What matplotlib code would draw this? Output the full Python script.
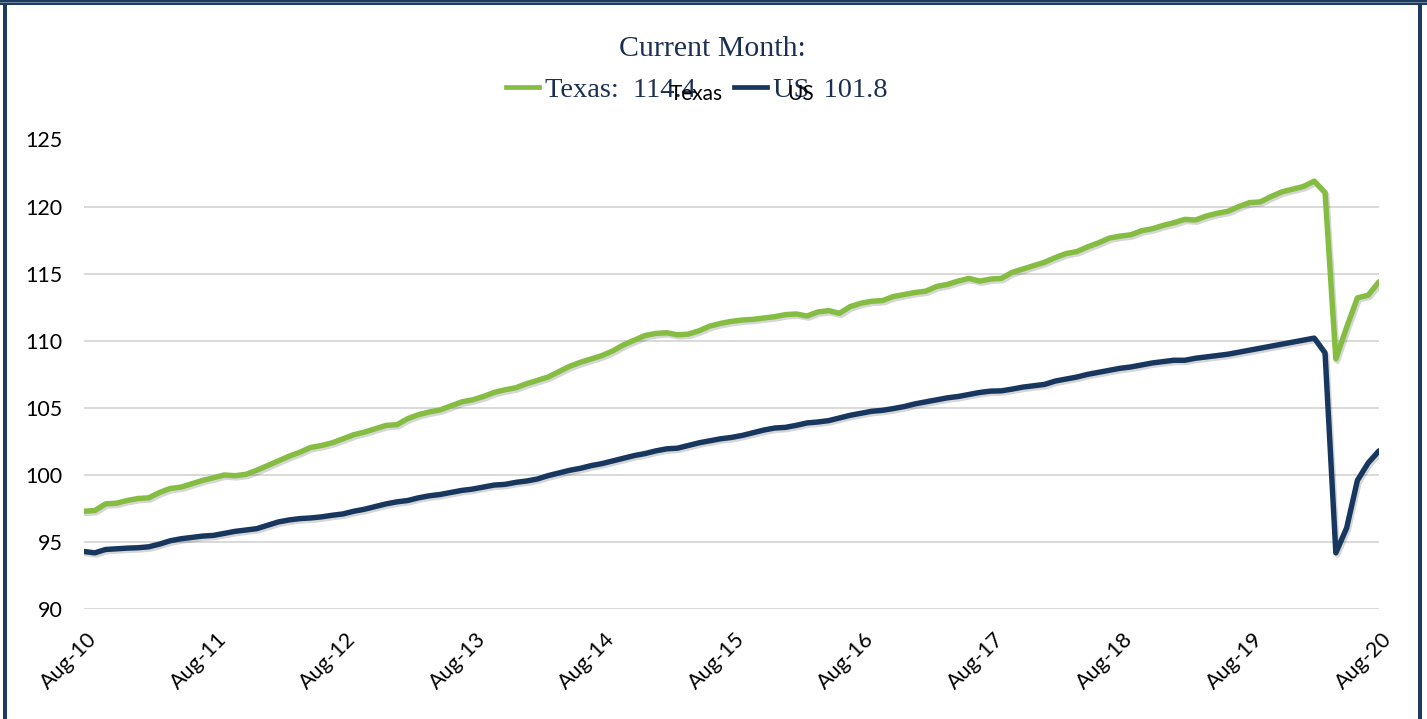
import matplotlib
matplotlib.use("Agg")
import matplotlib.pyplot as plt
import matplotlib.patheffects as pe
from matplotlib.lines import Line2D
from matplotlib.patches import Rectangle
import matplotlib.transforms as mtransforms

# ---------------- data (monthly, Aug-10 .. Aug-20) ----------------
texas = [97.3, 97.35, 97.85, 97.9, 98.1, 98.25, 98.3, 98.7, 99.0, 99.1, 99.35, 99.6, 99.8,
         100.0, 99.95, 100.05, 100.35, 100.7, 101.05, 101.4, 101.7, 102.05, 102.2, 102.4, 102.7,
         103.0, 103.2, 103.45, 103.7, 103.75, 104.2, 104.5, 104.7, 104.85, 105.15, 105.45, 105.6,
         105.85, 106.15, 106.35, 106.5, 106.8, 107.05, 107.3, 107.7, 108.1, 108.4, 108.65, 108.9,
         109.25, 109.7, 110.05, 110.4, 110.55, 110.6, 110.45, 110.5, 110.75, 111.1, 111.3, 111.45,
         111.55, 111.6, 111.7, 111.8, 111.95, 112.0, 111.85, 112.15, 112.25, 112.05, 112.55, 112.8,
         112.95, 113.0, 113.3, 113.45, 113.6, 113.7, 114.05, 114.2, 114.45, 114.65, 114.45, 114.6,
         114.65, 115.1, 115.35, 115.6, 115.85, 116.2, 116.5, 116.65, 117.0, 117.3, 117.65, 117.8,
         117.9, 118.2, 118.35, 118.6, 118.8, 119.05, 119.0, 119.3, 119.5, 119.65, 120.0, 120.3,
         120.35, 120.75, 121.1, 121.3, 121.5, 121.9, 121.05, 108.65, 111.0, 113.2, 113.4, 114.4]

us = [94.3, 94.2, 94.45, 94.5, 94.55, 94.58, 94.65, 94.85, 95.1, 95.25, 95.35, 95.45, 95.5,
      95.65, 95.8, 95.9, 96.0, 96.25, 96.5, 96.65, 96.75, 96.8, 96.88, 97.0, 97.1,
      97.3, 97.45, 97.65, 97.85, 98.0, 98.1, 98.3, 98.45, 98.55, 98.7, 98.85, 98.95,
      99.1, 99.25, 99.3, 99.45, 99.55, 99.7, 99.95, 100.15, 100.35, 100.5, 100.7, 100.85,
      101.05, 101.25, 101.45, 101.6, 101.8, 101.95, 102.0, 102.2, 102.4, 102.55, 102.7, 102.8,
      102.95, 103.15, 103.35, 103.5, 103.55, 103.7, 103.88, 103.95, 104.05, 104.25, 104.45, 104.6,
      104.75, 104.82, 104.95, 105.1, 105.3, 105.45, 105.6, 105.75, 105.85, 106.0, 106.15, 106.25,
      106.27, 106.4, 106.55, 106.65, 106.75, 107.0, 107.15, 107.3, 107.5, 107.65, 107.8, 107.95,
      108.05, 108.2, 108.35, 108.45, 108.55, 108.55, 108.7, 108.8, 108.9, 109.0, 109.15, 109.3,
      109.45, 109.6, 109.75, 109.9, 110.05, 110.2, 109.1, 94.2, 96.05, 99.6, 100.9, 101.8]

tick_labels = ["Aug-10", "Aug-11", "Aug-12", "Aug-13", "Aug-14", "Aug-15",
               "Aug-16", "Aug-17", "Aug-18", "Aug-19", "Aug-20"]
y_ticks = [90, 95, 100, 105, 110, 115, 120, 125]
series_names = ["Texas", "US"]

# ---------------- styling ----------------
GREEN = "#84BD41"
NAVY = "#17375E"
TITLE_COL = "#1B2F50"
FRAME = "#1F3A5F"
GRID = "#D9D9D9"

W, H = 1427, 719
fig = plt.figure(figsize=(W / 100, H / 100), dpi=100)
fig.patch.set_facecolor("white")

def fx(px):
    return px / W

def fy(py):
    return 1 - py / H

left, right = 84, 1379
top, bottom = 139.5, 609.2
ax = fig.add_axes([fx(left), fy(bottom), fx(right - left), (bottom - top) / H])
ax.set_facecolor("white")

x = list(range(len(texas)))
shadow = [pe.SimpleLineShadow(offset=(1.2, -1.6), alpha=0.16, shadow_color="black"), pe.Normal()]
ax.plot(x, texas, color=GREEN, lw=3.9, solid_joinstyle="round", solid_capstyle="round",
        path_effects=shadow, zorder=3)
ax.plot(x, us, color=NAVY, lw=3.9, solid_joinstyle="round", solid_capstyle="round",
        path_effects=shadow, zorder=3)

ax.set_xlim(0, len(texas) - 1)
ax.set_ylim(y_ticks[0], y_ticks[-1])
ax.set_yticks(y_ticks)
ax.set_yticklabels([str(v) for v in y_ticks], fontsize=15.5, family="Lato", color="black")
ax.set_xticks(list(range(0, len(texas), 12)))
ax.set_xticklabels(tick_labels, fontsize=15.5, family="Lato", color="black",
                   rotation=45, ha="right", va="center", rotation_mode="anchor")
ax.tick_params(axis="both", length=0)
ax.tick_params(axis="y", pad=15.5)
ax.tick_params(axis="x", pad=0)
offset = mtransforms.ScaledTranslation(10 / 100, -27 / 100, fig.dpi_scale_trans)
for lab in ax.get_xticklabels():
    lab.set_transform(lab.get_transform() + offset)

ax.grid(axis="y", color=GRID, lw=1.4)
ax.set_axisbelow(True)
for s in ax.spines.values():
    s.set_visible(False)

# ---------------- title & legend ----------------
fig.text(fx(712), fy(56), "Current Month:", ha="center", va="baseline",
         fontsize=21.5, family="Liberation Serif", color=TITLE_COL)

fig.add_artist(Line2D([fx(506), fx(539)], [fy(87), fy(87)], color=GREEN, lw=3.4,
                      transform=fig.transFigure))
fig.text(fx(545), fy(97), f"{series_names[0]}:  {texas[-1]:.1f}", ha="left", va="baseline",
         fontsize=20.5, family="Liberation Serif", color=TITLE_COL)
fig.text(fx(670), fy(100.5), series_names[0], ha="left", va="baseline",
         fontsize=15, family="Lato", color="black")

fig.add_artist(Line2D([fx(734), fx(767)], [fy(87), fy(87)], color=NAVY, lw=3.4,
                      transform=fig.transFigure))
fig.text(fx(773), fy(97), f"{series_names[1]}  {us[-1]:.1f}", ha="left", va="baseline",
         fontsize=20.5, family="Liberation Serif", color=TITLE_COL)
fig.text(fx(787), fy(100.5), series_names[1], ha="left", va="baseline",
         fontsize=15, family="Lato", color="black")

# ---------------- frame ----------------
fig.add_artist(Rectangle((0, fy(5)), 1, fy(0) - fy(5), transform=fig.transFigure,
                         color=FRAME, lw=0, zorder=10))
fig.add_artist(Rectangle((0, fy(3.2)), 1, fy(2.2) - fy(3.2), transform=fig.transFigure,
                         color="#6F86A3", lw=0, zorder=11))
fig.add_artist(Rectangle((fx(3), 0), fx(3.5), 1, transform=fig.transFigure,
                         color=FRAME, lw=0, zorder=10))
fig.add_artist(Rectangle((fx(1418), 0), fx(3.5), 1, transform=fig.transFigure,
                         color=FRAME, lw=0, zorder=10))

fig.savefig("out.png", dpi=100, facecolor="white")
